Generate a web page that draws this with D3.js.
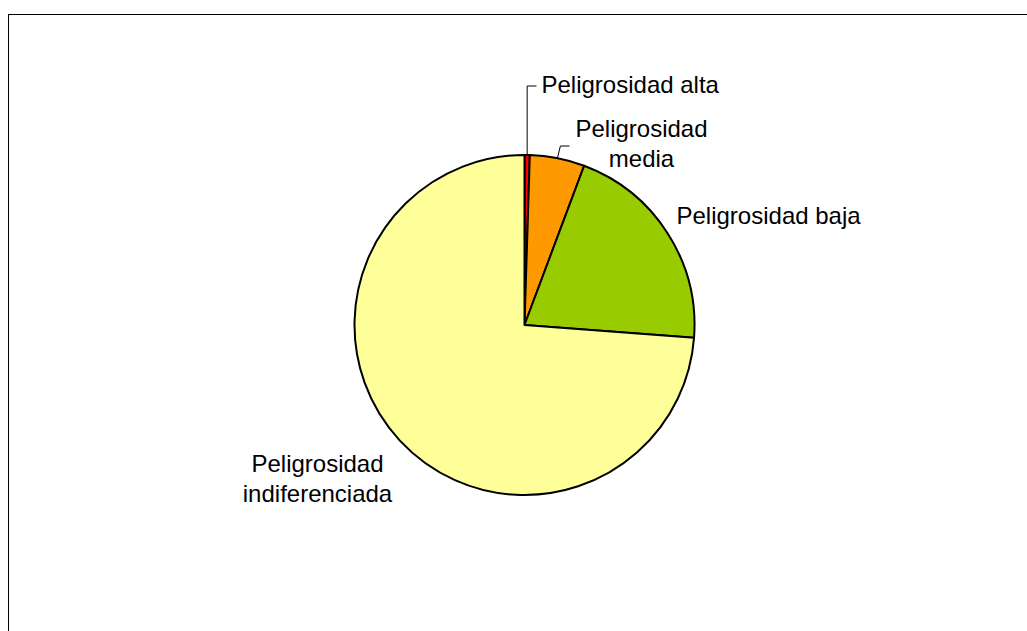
<!DOCTYPE html>
<html>
<head>
<meta charset="utf-8">
<script src="https://cdn.jsdelivr.net/npm/d3@7"></script>
<style>
  body { margin: 0; background: #fff; }
  svg { display: block; }
  text { font-family: Arial, "Liberation Sans", sans-serif; font-size: 24px; fill: #000; }
</style>
</head>
<body>
<div id="chart"></div>
<script>
const categories = ["Peligrosidad alta", "Peligrosidad media", "Peligrosidad baja", "Peligrosidad indiferenciada"];
const values = [0.5, 5.2, 20.5, 73.8];
const colors = ["#FF0000", "#FF9900", "#99CC00", "#FFFF99"];
// label lines (wrapped as in the original)
const labelLines = [["Peligrosidad alta"], ["Peligrosidad", "media"], ["Peligrosidad baja"], ["Peligrosidad", "indiferenciada"]];

let dim = { width: 1027, height: 631 };
let cx = 524.5, cy = 325, radius = 170;

let svg = d3.select('#chart').append('svg')
    .attr('width', dim.width)
    .attr('height', dim.height);

// chart frame
svg.append('rect')
    .attr('x', 8.5).attr('y', 14.5)
    .attr('width', 1040).attr('height', 700)
    .attr('fill', 'none')
    .attr('stroke', '#000')
    .attr('stroke-width', 1);

let data = categories.map((c, i) => ({ name: c, value: values[i], color: colors[i], lines: labelLines[i] }));

let pie = d3.pie().sort(null).value(d => d.value);
let arc = d3.arc().innerRadius(0).outerRadius(radius);
let arcs = pie(data);

let g = svg.append('g').attr('transform', `translate(${cx},${cy})`);

g.selectAll('path')
    .data(arcs)
    .enter()
    .append('path')
    .attr('d', arc)
    .attr('fill', d => d.data.color)
    .attr('stroke', '#000')
    .attr('stroke-width', 2)
    .attr('stroke-linejoin', 'round');

// label placement relative to pie center: [x, y of first baseline, anchor]
const labelPos = [
  { x: 17, y: -232, anchor: 'start', leader: true },
  { x: 117, y: -188, anchor: 'middle', leader: true },
  { x: 152, y: -101, anchor: 'start', leader: false },
  { x: -207, y: 147, anchor: 'middle', leader: false }
];
const lineH = 30;

arcs.forEach((a, i) => {
  let p = labelPos[i];
  let t = g.append('text')
      .attr('x', p.x).attr('y', p.y)
      .attr('text-anchor', p.anchor);
  a.data.lines.forEach((ln, j) => {
    t.append('tspan').attr('x', p.x).attr('y', p.y + j * lineH).text(ln);
  });
  if (p.leader) {
    // leader from slice edge midpoint up to the label
    let mid = (a.startAngle + a.endAngle) / 2;
    let ex = Math.sin(mid) * radius, ey = -Math.cos(mid) * radius;
    let elbowY = i === 0 ? p.y - 7 : -179;
    let elbowX = i === 0 ? ex : ex + 3;
    let endX = i === 0 ? p.x - 5 : p.x - 72;
    g.append('path')
      .attr('d', `M${ex},${ey} L${elbowX},${elbowY} L${endX},${elbowY}`)
      .attr('fill', 'none')
      .attr('stroke', '#000')
      .attr('stroke-width', 1);
  }
});
</script>
</body>
</html>
